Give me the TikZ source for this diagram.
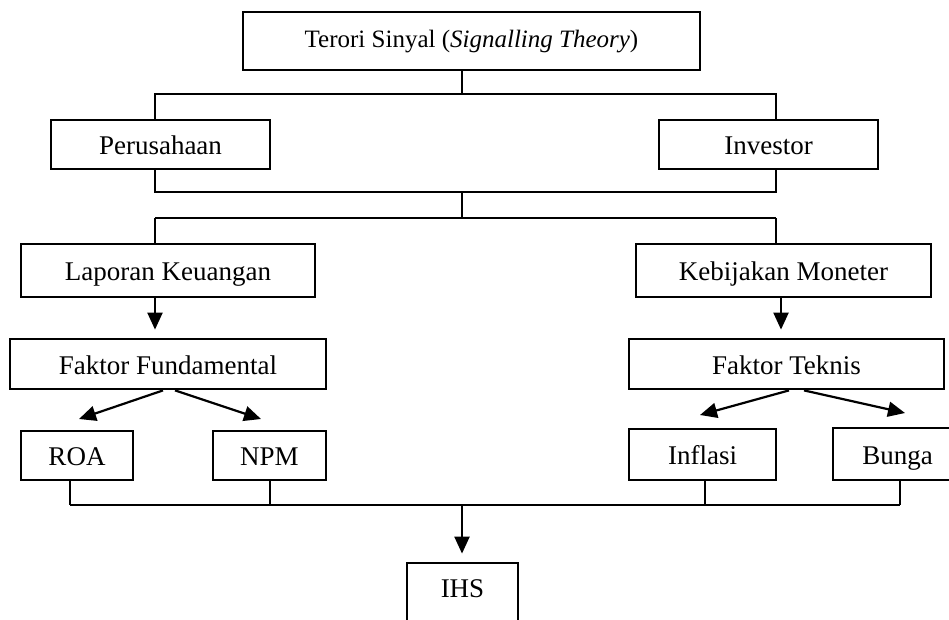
\documentclass[tikz,border=0pt]{standalone}
\usepackage{fontspec}
\setmainfont{Liberation Serif}
\usetikzlibrary{arrows.meta}
\begin{document}
\begin{tikzpicture}[x=1pt,y=-1pt,
  box/.style={draw=black,line width=2.8pt,inner sep=0pt,text height=20pt,text depth=0pt,
    font=\fontsize{27}{30}\selectfont},
  thin/.style={draw=black,line width=1.4pt},
  thick/.style={draw=black,line width=2.2pt},
  arr/.style={draw=black,line width=2.2pt,-{Triangle[length=17pt,width=15pt]}}]
\useasboundingbox (0,0) rectangle (949,619);
\clip (0,0) rectangle (949,619);
\fill[white] (0,0) rectangle (949,619);
% nodes
\node[box,minimum width=457pt,minimum height=58pt,text height=12pt,
  font=\fontsize{25}{28}\selectfont] (title) at (471.5,41)
  {Terori Sinyal (\textit{Signalling Theory})};
\node[box,minimum width=219pt,minimum height=49pt] (per) at (160.5,144.5) {Perusahaan};
\node[box,minimum width=219pt,minimum height=49pt] (inv) at (768.5,144.5) {Investor};
\node[box,minimum width=294pt,minimum height=53pt] (lap) at (168,270.5) {Laporan Keuangan};
\node[box,minimum width=295pt,minimum height=53pt] (keb) at (783.5,270.5) {Kebijakan Moneter};
\node[box,minimum width=316pt,minimum height=50pt] (ff) at (168,364) {Faktor Fundamental};
\node[box,minimum width=315pt,minimum height=50pt] (ft) at (786.5,364) {Faktor Teknis};
\node[box,minimum width=112pt,minimum height=49pt] (roa) at (77,455.5) {ROA};
\node[box,minimum width=113pt,minimum height=49pt] (npm) at (269.5,455.5) {NPM};
\node[box,minimum width=147pt,minimum height=51pt] (inf) at (702.5,454.5) {Inflasi};
\node[box,minimum width=129pt,minimum height=52pt] (bun) at (897.5,454) {Bunga};
\node[box,minimum width=111pt,minimum height=62pt,text height=6pt] (ihs) at (462.5,594) {IHS};
% coordinates
\coordinate (cl) at (155,0);
\coordinate (cr) at (776,0);
\coordinate (cm) at (462,0);
\coordinate (h1) at (0,94);
\coordinate (h2) at (0,192);
\coordinate (h3) at (0,218);
\coordinate (h4) at (0,505);
\coordinate (ar) at (781,0);
% top tree
\draw[thin] (title.south -| cm) -- (cm |- h1);
\draw[thin] (per.north -| cl) -- (cl |- h1) -- (cr |- h1) -- (inv.north -| cr);
\draw[thin] (per.south -| cl) -- (cl |- h2) -- (cr |- h2) -- (inv.south -| cr);
\draw[thin] (cm |- h2) -- (cm |- h3);
\draw[thick] (cl |- h3) -- (cr |- h3);
\draw[thin] (cl |- h3) -- (lap.north -| cl);
\draw[thin] (cr |- h3) -- (keb.north -| cr);
% arrows down
\draw[arr,shorten >=8pt] (lap.south -| cl) -- (ff.north -| cl);
\draw[arr,shorten >=8pt] (keb.south -| ar) -- (ft.north -| ar);
% diagonal arrows
\coordinate (a1) at (79,419);
\coordinate (a2) at (261,419);
\coordinate (a3) at (700,415);
\coordinate (a4) at (905,413);
\draw[arr] (ff.south -| 163,0) -- (a1);
\draw[arr] (ff.south -| 175,0) -- (a2);
\draw[arr] (ft.south -| 789,0) -- (a3);
\draw[arr] (ft.south -| 804,0) -- (a4);
% bottom tree
\coordinate (b1) at (70,0);
\coordinate (b2) at (270,0);
\coordinate (b3) at (705,0);
\coordinate (b4) at (900,0);
\coordinate (bm) at (462,0);
\draw[thin] (roa.south -| b1) -- (b1 |- h4);
\draw[thin] (npm.south -| b2) -- (b2 |- h4);
\draw[thin] (inf.south -| b3) -- (b3 |- h4);
\draw[thin] (bun.south -| b4) -- (b4 |- h4);
\draw[thick] (b1 |- h4) -- (b4 |- h4);
\draw[arr,shorten >=8pt] (bm |- h4) -- (ihs.north -| bm);
\end{tikzpicture}
\end{document}
